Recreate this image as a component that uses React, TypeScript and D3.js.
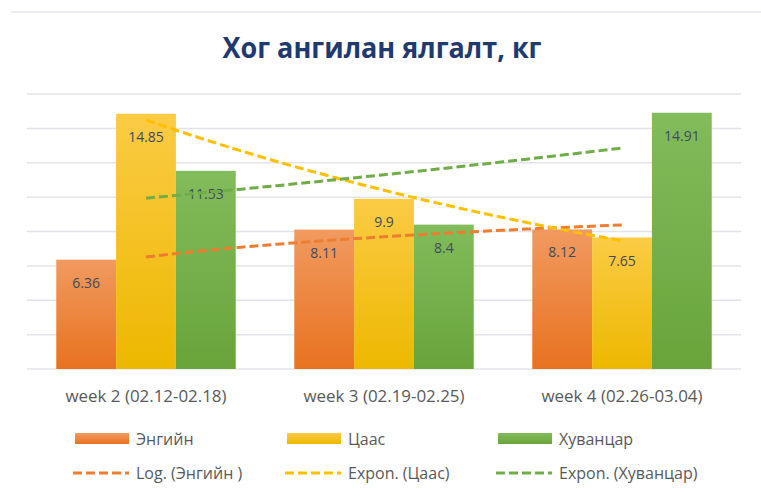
import * as React from 'react';
import * as d3 from 'd3';

// categories and series
const weeks = ['week 2 (02.12-02.18)', 'week 3 (02.19-02.25)', 'week 4 (02.26-03.04)'];
const seriesNames = ['Энгийн', 'Цаас', 'Хуванцар'];
const engiin = [6.36, 8.11, 8.12];
const tsaas = [14.85, 9.9, 7.65];
const khuvantsar = [11.53, 8.4, 14.91];
const yTicks = [0, 2, 4, 6, 8, 10, 12, 14, 16];
const trendLabels = ['Log. (Энгийн )', 'Expon. (Цаас)', 'Expon. (Хуванцар)'];

const colors = ['#ED7D31', '#FFC000', '#70AD47'];
const gradTop = ['#F19A60', '#FBCB45', '#82BC5B'];
const gradBottom = ['#E8721F', '#EDB800', '#68A43A'];

const width = 761;
const height = 498;
const marginLeft = 27;
const marginRight = 20;
const plotTop = 94;
const plotBottom = 369;

// Excel-style trendlines fitted on x = 1..n
const logFit = (ys: number[]) => {
  const xs = ys.map((_, i) => Math.log(i + 1));
  const mx = d3.mean(xs)!, my = d3.mean(ys)!;
  const b = d3.sum(xs, (x, i) => (x - mx) * (ys[i] - my)) / d3.sum(xs, x => (x - mx) ** 2);
  const a = my - b * mx;
  return (x: number) => a + b * Math.log(x);
};
const expFit = (ys: number[]) => {
  const xs = ys.map((_, i) => i + 1);
  const ly = ys.map(Math.log);
  const mx = d3.mean(xs)!, my = d3.mean(ly)!;
  const b = d3.sum(xs, (x, i) => (x - mx) * (ly[i] - my)) / d3.sum(xs, x => (x - mx) ** 2);
  const a = my - b * mx;
  return (x: number) => Math.exp(a + b * x);
};

const App: React.FC = () => {
  const series = [engiin, tsaas, khuvantsar];

  const x0 = d3.scaleBand<string>()
    .domain(weeks)
    .range([marginLeft, width - marginRight])
    .paddingInner(0.246)
    .paddingOuter(0.123);
  const x1 = d3.scaleBand<number>()
    .domain(d3.range(series.length))
    .range([0, x0.bandwidth()]);
  const y = d3.scaleLinear().domain([0, 16]).range([plotBottom, plotTop]);

  const xt = d3.scaleLinear()
    .domain([1, weeks.length])
    .range([x0(weeks[0])! + x0.bandwidth() / 2, x0(weeks[weeks.length - 1])! + x0.bandwidth() / 2]);

  const fits = [logFit(engiin), expFit(tsaas), expFit(khuvantsar)];
  const samples = d3.range(1, weeks.length + 0.001, 0.05);
  const line = d3.line<number>();

  const font = "'Open Sans', 'DejaVu Sans', sans-serif";
  const legendX = [75, 287, 498];

  return (
    <svg width={width} height={height} style={{ position: 'absolute', left: 0, top: 0, background: '#fff' }}>
      <defs>
        {colors.map((c, i) => (
          <linearGradient key={i} id={`g${i}`} x1="0" y1="0" x2="0" y2="1">
            <stop offset="0%" stopColor={gradTop[i]} />
            <stop offset="100%" stopColor={gradBottom[i]} />
          </linearGradient>
        ))}
      </defs>

      {/* chart frame top edge */}
      <line x1={11} x2={width} y1={12} y2={12} stroke="#E4E4EC" strokeWidth={1.5} />

      <text x={382} y={58} textAnchor="middle" fontFamily={font} fontWeight={700} fontSize={28}
        fill="#1F3A6E" textLength={319} lengthAdjust="spacingAndGlyphs">
        Хог ангилан ялгалт, кг
      </text>

      {yTicks.map(t => (
        <line key={t} x1={marginLeft} x2={width - marginRight} y1={y(t)} y2={y(t)}
          stroke="#E3E3EA" strokeWidth={1.5} />
      ))}

      {weeks.map((w, gi) => (
        <g key={w} transform={`translate(${x0(w)},0)`}>
          {series.map((s, si) => (
            <g key={si}>
              <rect x={x1(si)} y={y(s[gi])} width={x1.bandwidth()} height={y(0) - y(s[gi])}
                fill={`url(#g${si})`} />
              <text x={x1(si)! + x1.bandwidth() / 2} y={y(s[gi]) + 28} textAnchor="middle"
                fontFamily={font} fontSize={14} fill="#3E4B5E">
                {s[gi]}
              </text>
            </g>
          ))}
        </g>
      ))}

      {fits.map((f, i) => (
        <path key={i} d={line(samples.map(v => [xt(v), y(f(v))]))!} fill="none"
          stroke={colors[i]} strokeWidth={3} strokeDasharray="9 4" />
      ))}

      {weeks.map(w => (
        <text key={w} x={x0(w)! + x0.bandwidth() / 2} y={402} textAnchor="middle"
          fontFamily={font} fontSize={16} fill="#595959" textLength={161} lengthAdjust="spacingAndGlyphs">
          {w}
        </text>
      ))}

      {seriesNames.map((n, i) => (
        <g key={n}>
          <rect x={legendX[i]} y={433} width={54} height={11} fill={`url(#g${i})`} />
          <text x={legendX[i] + 61} y={445} fontFamily={font} fontSize={16} fill="#595959">{n}</text>
          <line x1={legendX[i] - 2} x2={legendX[i] + 54} y1={473} y2={473} stroke={colors[i]}
            strokeWidth={3} strokeDasharray="9 4" />
          <text x={legendX[i] + 61} y={479} fontFamily={font} fontSize={16} fill="#595959">{trendLabels[i]}</text>
        </g>
      ))}
    </svg>
  );
};

export default App;
